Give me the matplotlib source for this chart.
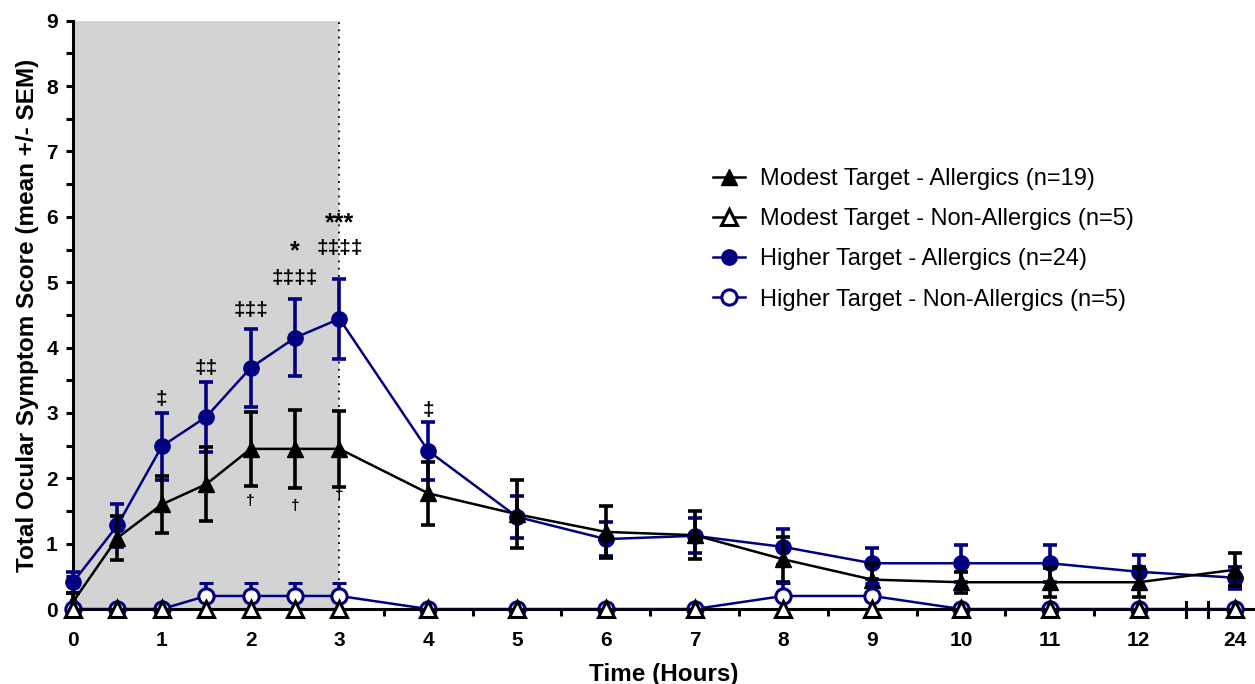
import numpy as np
import matplotlib
matplotlib.use('Agg')
import matplotlib.pyplot as plt
from matplotlib.lines import Line2D
from matplotlib.transforms import blended_transform_factory

plt.rcParams['font.family'] = ['Liberation Sans', 'DejaVu Sans']

# time points (hours); 24 h sits just past 12 after an axis break
hours = ['0', '1', '2', '3', '4', '5', '6', '7', '8', '9', '10', '11', '12', '24']
hour_pos = [0, 1, 2, 3, 4, 5, 6, 7, 8, 9, 10, 11, 12, 13.08]
xpos = [0, 0.5, 1, 1.5, 2, 2.5, 3, 4, 5, 6, 7, 8, 9, 10, 11, 12, 13.08]

modest_all = [0.11, 1.09, 1.60, 1.91, 2.45, 2.45, 2.45, 1.77, 1.45, 1.18, 1.13, 0.76, 0.45, 0.41, 0.41, 0.41, 0.60]
modest_all_sem = [0.14, 0.34, 0.44, 0.57, 0.57, 0.60, 0.58, 0.48, 0.52, 0.40, 0.37, 0.34, 0.24, 0.16, 0.22, 0.23, 0.25]

modest_non = [0] * 17

higher_all = [0.41, 1.28, 2.49, 2.94, 3.69, 4.15, 4.44, 2.42, 1.41, 1.07, 1.12, 0.95, 0.70, 0.70, 0.70, 0.57, 0.48]
higher_all_sem = [0.16, 0.33, 0.51, 0.54, 0.60, 0.59, 0.61, 0.44, 0.32, 0.26, 0.27, 0.27, 0.24, 0.28, 0.28, 0.25, 0.17]

higher_non = [0, 0, 0, 0.2, 0.2, 0.2, 0.2, 0, 0, 0, 0, 0.2, 0.2, 0, 0, 0, 0]
higher_non_sem = [0, 0, 0, 0.2, 0.2, 0.2, 0.2, 0, 0, 0, 0, 0.2, 0.2, 0, 0, 0, 0]

# significance marks: (x, y, text, size)
marks = [
    (1, 3.20, '‡', 15), (1.5, 3.68, '‡‡', 15), (2, 4.57, '‡‡‡', 15),
    (2.5, 5.05, '‡‡‡‡', 15), (2.5, 5.47, '*', 18), (3, 5.52, '‡‡‡‡', 15),
    (3, 5.90, '***', 18), (4, 3.04, '‡', 15),
    (2, 1.65, '†', 11), (2.5, 1.57, '†', 11), (3, 1.74, '†', 11),
]

navy = '#000080'

fig = plt.figure(figsize=(12.55, 6.84), dpi=100)
ax = fig.add_axes([0.0582, 0.1096, 0.9418, 0.8601])

ax.axvspan(0, 3, color='#d3d3d3', zorder=0, lw=0)
ax.axvline(3, color='black', ls=(0, (1, 3)), lw=1.3, zorder=1)

ms = 11
eb = dict(elinewidth=2.6, capsize=5, capthick=2.6, clip_on=False, lw=1.8)
ax.errorbar(xpos, higher_all, yerr=higher_all_sem, color=navy,
            marker='o', ms=ms, mfc=navy, mec=navy, zorder=3, **eb)
ax.errorbar(xpos, modest_all, yerr=modest_all_sem, color='black',
            marker='^', ms=ms, mfc='black', mec='black', zorder=4, **eb)
ax.errorbar(xpos, higher_non, yerr=[np.zeros(len(xpos)), higher_non_sem], color=navy,
            marker='o', ms=ms, mfc='white', mec=navy, mew=2.2, zorder=5, **eb)
ax.plot(xpos, modest_non, color='black', lw=1.8, marker='^', ms=ms,
        mfc='white', mec='black', mew=2.2, clip_on=False, zorder=6)

for x, y, t, s in marks:
    ax.text(x, y, t, ha='center', va='center', fontsize=s, fontweight='bold')

ax.set_xlim(0, 13.31)
ax.set_ylim(0, 9)
ax.set_xticks(hour_pos)
ax.set_xticklabels(hours)
ax.set_xticks(np.arange(0.5, 12, 1), minor=True)
ax.set_yticks(range(10))
ax.set_yticks(np.arange(0.5, 9, 1), minor=True)

for side in ['top', 'right']:
    ax.spines[side].set_visible(False)
for side in ['left', 'bottom']:
    ax.spines[side].set_linewidth(2.2)
ax.tick_params(which='both', width=2.2, length=5, direction='out')
ax.tick_params(axis='both', which='major', labelsize=15, pad=6)
ax.tick_params(axis='x', which='major', pad=11)
for lab in ax.get_xticklabels() + ax.get_yticklabels():
    lab.set_fontweight('bold')

# axis break marks between 12 and 24
tr = blended_transform_factory(ax.transData, ax.transAxes)
for bx in [12.53, 12.78]:
    ax.plot([bx, bx], [-0.0136, 0.0119], color='black', lw=2.2, transform=tr, clip_on=False)

ax.set_xlabel('Time (Hours)', fontsize=17.5, fontweight='bold', labelpad=9)
ax.set_ylabel('Total Ocular Symptom Score (mean +/- SEM)', fontsize=17.5, fontweight='bold', labelpad=5)

handles = [
    Line2D([], [], color='black', lw=1.8, marker='^', ms=ms, mfc='black', mec='black'),
    Line2D([], [], color='black', lw=1.8, marker='^', ms=ms, mfc='white', mec='black', mew=2.2),
    Line2D([], [], color=navy, lw=1.8, marker='o', ms=ms, mfc=navy, mec=navy),
    Line2D([], [], color=navy, lw=1.8, marker='o', ms=ms, mfc='white', mec=navy, mew=2.2),
]
labels = ['Modest Target - Allergics (n=19)', 'Modest Target - Non-Allergics (n=5)',
          'Higher Target - Allergics (n=24)', 'Higher Target - Non-Allergics (n=5)']
ax.legend(handles, labels, loc='upper left',
          bbox_to_anchor=(713 / 1255, 1 - 168 / 684), bbox_transform=fig.transFigure,
          frameon=False, fontsize=17, handlelength=1.35, handletextpad=0.65,
          labelspacing=0.77, borderpad=0, borderaxespad=0)

fig.savefig('out.png', dpi=100)
